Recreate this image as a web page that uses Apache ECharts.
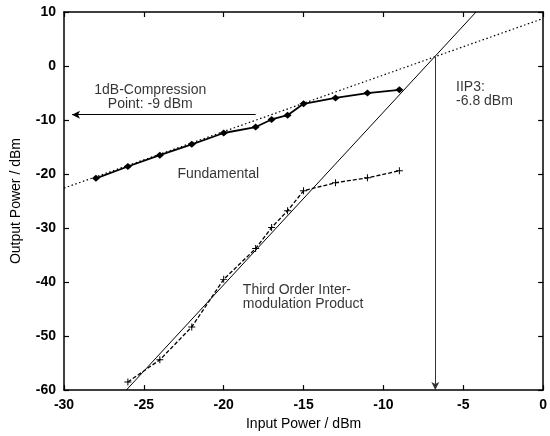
<!DOCTYPE html>
<html>
<head>
<meta charset="utf-8">
<script src="https://cdn.jsdelivr.net/npm/echarts@6/dist/echarts.min.js"></script>
<style>
  html, body { margin: 0; padding: 0; background: #fff; }
</style>
</head>
<body>
<div id="chart" style="width: 550px; height: 436px;"></div>
<script>
// fundamental (diamonds)
var fundX = [-28, -26, -24, -22, -20, -18, -17, -16, -15, -13, -11, -9]
var fundY = [-20.8, -18.6, -16.5, -14.5, -12.4, -11.3, -9.9, -9.1, -7.0, -5.9, -5.0, -4.4]
// third order intermodulation product (plus)
var im3X = [-26, -24, -22, -20, -18, -17, -16, -15, -13, -11, -9]
var im3Y = [-58.5, -54.4, -48.3, -39.5, -33.8, -29.9, -26.8, -23.1, -21.6, -20.7, -19.4]
// extrapolated lines (end points)
var fundFitX = [-30, 0]
var fundFitY = [-22.6, 8.8]
var im3FitX = [-26.1, -4.2]
var im3FitY = [-60, 10]
// markers
var compPoint = [-9, -9]      // 1dB compression: input -9 dBm
var compArrowFrom = -18
var compArrowTo = -29.5
var iip3 = [-6.75, 1.75]     // IIP3: -6.8 dBm
// annotations
var noteText = ['1dB-Compression\nPoint: -9 dBm', 'Fundamental', 'IIP3:\n-6.8 dBm', 'Third Order Inter-\nmodulation Product']
var noteX = [-24.6, -22.9, -5.45, -18.8]
var noteY = [-5.8, -20.0, -5.2, -42.7]
var noteAlign = ['center', 'left', 'left', 'left']
// axis
var xTicks = [-30, 0, 5]
var yTicks = [-60, 10, 10]

function pairs(xs, ys) {
  return xs.map(function (x, i) { return [x, ys[i]] })
}

var font = 'Liberation Sans, Arial, Helvetica, sans-serif'
var plusPath = 'path://M4.3,0H5.7V4.3H10V5.7H5.7V10H4.3V5.7H0V4.3H4.3Z'

var myChart = echarts.init(document.getElementById('chart'))

var axisCommon = {
  type: 'value',
  axisLine: { show: true, onZero: false, lineStyle: { color: '#000', width: 1.5 } },
  axisTick: { show: true, inside: true, length: 5, lineStyle: { color: '#000', width: 1.2 } },
  splitLine: { show: false }
}

var option = {
  animation: false,
  backgroundColor: '#fff',
  textStyle: { fontFamily: font },
  grid: { left: 64, right: 2, top: 12, bottom: 42 },
  xAxis: [
    Object.assign({}, axisCommon, {
      min: xTicks[0], max: xTicks[1], interval: xTicks[2],
      name: 'Input Power / dBm',
      nameLocation: 'middle',
      nameGap: 22,
      nameTextStyle: { color: '#000', fontSize: 14, fontFamily: font },
      axisLabel: { color: '#000', fontSize: 14, fontWeight: 'bold', margin: 8, fontFamily: font }
    }),
    Object.assign({}, axisCommon, {
      position: 'top',
      min: xTicks[0], max: xTicks[1], interval: xTicks[2],
      axisLabel: { show: false }
    })
  ],
  yAxis: [
    Object.assign({}, axisCommon, {
      min: yTicks[0], max: yTicks[1], interval: yTicks[2],
      name: 'Output Power / dBm',
      nameLocation: 'middle',
      nameRotate: 90,
      nameGap: 41,
      nameTextStyle: { color: '#000', fontSize: 14, fontFamily: font },
      axisLabel: { color: '#000', fontSize: 14, fontWeight: 'bold', margin: 8, fontFamily: font }
    }),
    Object.assign({}, axisCommon, {
      position: 'right',
      min: yTicks[0], max: yTicks[1], interval: yTicks[2],
      axisLabel: { show: false }
    })
  ],
  series: [
    {
      name: 'fund fit',
      type: 'line',
      data: pairs(fundFitX, fundFitY),
      showSymbol: false,
      lineStyle: { color: '#000', width: 1.2, type: [1.5, 2.5] },
      z: 2
    },
    {
      name: 'im3 fit',
      type: 'line',
      data: pairs(im3FitX, im3FitY),
      showSymbol: false,
      lineStyle: { color: '#000', width: 1 },
      z: 2
    },
    {
      name: 'Fundamental',
      type: 'line',
      data: pairs(fundX, fundY),
      symbol: 'diamond',
      symbolSize: [8, 7],
      itemStyle: { color: '#000' },
      lineStyle: { color: '#000', width: 1.8 },
      z: 4
    },
    {
      name: 'IM3',
      type: 'line',
      data: pairs(im3X, im3Y),
      symbol: plusPath,
      symbolSize: 7,
      itemStyle: { color: '#000' },
      lineStyle: { color: '#000', width: 1.3, type: [4, 2] },
      z: 3,
      markLine: {
        silent: true,
        symbol: ['none', 'arrow'],
        symbolSize: [6, 8],
        label: { show: false },
        data: [
          [
            { coord: [compArrowFrom, compPoint[1]], lineStyle: { color: '#000', width: 1.2, type: 'solid' } },
            { coord: [compArrowTo, compPoint[1]] }
          ],
          [
            { coord: iip3, lineStyle: { color: '#333', width: 1, type: 'solid' } },
            { coord: [iip3[0], yTicks[0]] }
          ]
        ]
      }
    },
    {
      name: 'notes',
      type: 'scatter',
      symbolSize: 0,
      silent: true,
      data: noteText.map(function (t, i) {
        return {
          value: [noteX[i], noteY[i]],
          label: {
            show: true,
            position: 'inside',
            align: noteAlign[i],
            verticalAlign: 'middle',
            formatter: t,
            color: '#000',
            fontSize: 14,
            lineHeight: 14,
            fontFamily: font
          }
        }
      }),
      z: 5
    }
  ]
}

option && myChart.setOption(option)
</script>
</body>
</html>
